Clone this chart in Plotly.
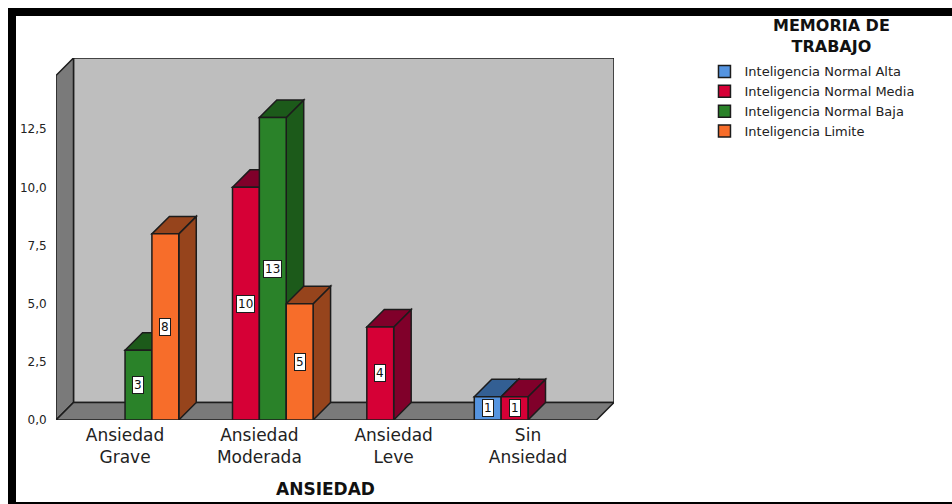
import plotly.graph_objects as go

categories = ["Ansiedad<br>Grave", "Ansiedad<br>Moderada", "Ansiedad<br>Leve", "Sin<br>Ansiedad"]
normal_alta = [None, None, None, 1]
normal_media = [None, 10, 4, 1]
normal_baja = [3, 13, None, None]
limite = [8, 5, None, None]
series_names = ["Inteligencia Normal Alta", "Inteligencia Normal Media",
                "Inteligencia Normal Baja", "Inteligencia Limite"]
series_values = [normal_alta, normal_media, normal_baja, limite]
front_colors = ["#5594E0", "#D60036", "#2A8229", "#F76D2A"]
top_colors = ["#335F93", "#80002A", "#1C5A1A", "#96441C"]
y_ticks = [0, 2.5, 5, 7.5, 10, 12.5]

PX_X = 134.4       # pixels per category
PX_Y = 23.3        # pixels per value unit
DEPTH = 17.5       # oblique depth in pixels
dx = DEPTH / PX_X
dy = DEPTH / PX_Y
x0, x1 = -0.514, 3.51
y_top = (420 - 75) / PX_Y
bar_w = 0.2
INK = "#1c1c1c"
FONT = "DejaVu Sans"


def poly(points, fill, layer="below", width=1.5):
    path = "M" + " L".join(f"{x},{y}" for x, y in points) + " Z"
    return dict(type="path", path=path, xref="x", yref="y", fillcolor=fill,
                line=dict(color=INK, width=width), layer=layer)


shapes = [
    poly([(x0 + dx, dy), (x1 + dx, dy), (x1 + dx, y_top + dy), (x0 + dx, y_top + dy)], "#BEBEBE"),
    poly([(x0, 0), (x0 + dx, dy), (x0 + dx, y_top + dy), (x0, y_top)], "#7A7A7A"),
    poly([(x0, 0), (x1, 0), (x1 + dx, dy), (x0 + dx, dy)], "#7A7A7A"),
]

fig = go.Figure()
annotations = []
for s, (name, values) in enumerate(zip(series_names, series_values)):
    fig.add_trace(go.Bar(x=list(range(len(categories))), y=values, name=name,
                         marker=dict(color=front_colors[s], line=dict(color=INK, width=1.5))))
    for c, v in enumerate(values):
        if v is None:
            continue
        left = c + (s - 2) * bar_w
        right = left + bar_w
        shapes.append(poly([(right, 0), (right + dx, dy), (right + dx, v + dy), (right, v)], top_colors[s]))
        shapes.append(poly([(left, v), (left + dx, v + dy), (right + dx, v + dy), (right, v)], top_colors[s]))
        annotations.append(dict(x=(left + right) / 2, y=v / 2, xref="x", yref="y", text=str(v),
                                showarrow=False, bgcolor="white", bordercolor=INK, borderwidth=1,
                                borderpad=1, font=dict(family=FONT, size=12, color="#111")))


def px_x(px):
    return (px - 56) / 558


def px_y(py):
    return (420 - py) / 362


# frame
for x_a, y_a, x_b, y_b in [(8, 8, 952, 16), (8, 8, 16, 504), (8, 502, 952, 504)]:
    shapes.append(dict(type="rect", xref="paper", yref="paper", line=dict(width=0), fillcolor="black",
                       x0=px_x(x_a), x1=px_x(x_b), y0=px_y(y_b), y1=px_y(y_a), layer="above"))

annotations += [
    dict(x=px_x(325.5), y=px_y(489), xref="paper", yref="paper", text="<b>ANSIEDAD</b>", showarrow=False,
         xanchor="center", yanchor="middle", font=dict(family=FONT, size=17, color="#111")),
    dict(x=px_x(831), y=px_y(36.5), xref="paper", yref="paper", text="<b>MEMORIA DE<br>TRABAJO</b>",
         showarrow=False, xanchor="center", yanchor="middle",
         font=dict(family=FONT, size=16, color="#111")),
]

fig.update_layout(
    width=952, height=504, autosize=False,
    margin=dict(l=56, r=338, t=58, b=84),
    paper_bgcolor="white", plot_bgcolor="white",
    barmode="group", bargap=0.2, bargroupgap=0,
    separators=",.",
    shapes=shapes, annotations=annotations,
    showlegend=True,
    legend=dict(xref="container", yref="container", x=0.74, y=0.888, xanchor="left", yanchor="top",
                font=dict(family=FONT, size=13, color="#222"), itemwidth=30,
                traceorder="normal", bgcolor="rgba(0,0,0,0)"),
    xaxis=dict(range=[x0, x1 + dx], tickmode="array", tickvals=list(range(len(categories))),
               ticktext=categories, showgrid=False, zeroline=False, showline=False, ticks="",
               ticklabelstandoff=3,
               tickfont=dict(family=FONT, size=17, color="#222")),
    yaxis=dict(range=[0, y_top + dy], tickmode="array", tickvals=y_ticks, tickformat=".1f",
               showgrid=False, zeroline=False, showline=False, ticks="outside", ticklen=6, tickcolor="rgba(0,0,0,0)",
               tickfont=dict(family=FONT, size=12, color="#222")),
)

fig.write_html("out.html", config={"displayModeBar": False},
               post_script="document.body.style.margin='0';")
